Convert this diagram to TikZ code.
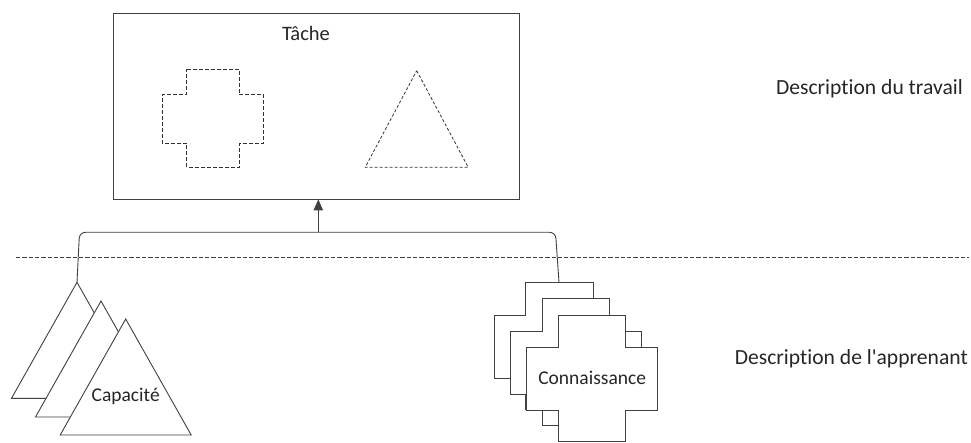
\documentclass[tikz,border=0pt]{standalone}
\usepackage{fontspec}
\setmainfont{Carlito}[Ligatures={NoCommon}]
\usetikzlibrary{arrows.meta}
\begin{document}
\begin{tikzpicture}[x=1pt,y=-1pt,
  every node/.style={font=\fontsize{19.5}{23}\selectfont, text=black!85, inner sep=0pt},
  caption/.style={font=\fontsize{21.6}{25}\selectfont, anchor=base east},
  line/.style={draw=black!75, line width=0.9pt},
  stackshape/.style={line, fill=white, line join=miter},
  ghost/.style={draw=black!80, line width=0.8pt, dash pattern=on 4pt off 2pt},
  % cross outline; origin is the top-left corner of its bounding box
  plus/.pic={
    \path[pic actions] (31.6,0) -- (99,0) -- (99,32.7) -- (131,32.7) -- (131,95.7)
      -- (99,95.7) -- (99,126.7) -- (31.6,126.7) -- (31.6,95.7) -- (0,95.7)
      -- (0,32.7) -- (31.6,32.7) -- cycle;
  }]
\useasboundingbox (0,0) rectangle (971,443);

% task box with its two outlined contents
\node[line, minimum width=406pt, minimum height=186pt] (task) at (316,106) {};
\node[anchor=base, font=\fontsize{20.5}{24}\selectfont] (tasklabel) at (306,40.7) {Tâche};
\pic[ghost, scale=0.774] (plusghost) at (162.3,69.3) {plus};
\draw[ghost, dash pattern=on 3pt off 2pt] (416.7,70.7) -- (468.2,167.3) -- (365.2,167.3) -- cycle;

% separator between the two levels
\draw[line, dash pattern=on 4.3pt off 2pt] (16,257.3) -- (969,257.3);

% stack of three triangles
\coordinate (tri1) at (77,282.3);
\coordinate (tri2) at (101,301);
\coordinate (tri3) at (125.7,319);
\foreach \t in {tri1,tri2,tri3}
  \path[stackshape] (\t) -- ++(65.5,116) -- ++(-131,0) -- cycle;
\node[anchor=base] (capa) at (125.7,401.7) {Capacité};

% stack of three crosses
\coordinate (crs1) at (494.3,282.3);
\coordinate (crs2) at (510.5,298.5);
\coordinate (crs3) at (526.7,315);
\foreach \c in {crs1,crs2,crs3}
  \pic[stackshape] at (\c) {plus};
\node[anchor=base] (conn) at (592.2,384.3) {Connaissance};

% links from both stacks up to the task
\coordinate (hub) at (318.3,232.3);
\coordinate (crstop) at (559,282.3);
\draw[line, rounded corners=6pt] (tri1) -- (79.5,232.3) -- (hub) -- (555.5,232.3) -- (crstop);
\draw[line, -{Triangle[length=11pt,width=9.5pt]}] (hub) -- (hub |- task.south);

% level captions
\node[caption] (lvltop) at (963,95) {Description du travail};
\node[caption] (lvlbot) at (968,364) {Description de l\textquotesingle apprenant};
\end{tikzpicture}
\end{document}
